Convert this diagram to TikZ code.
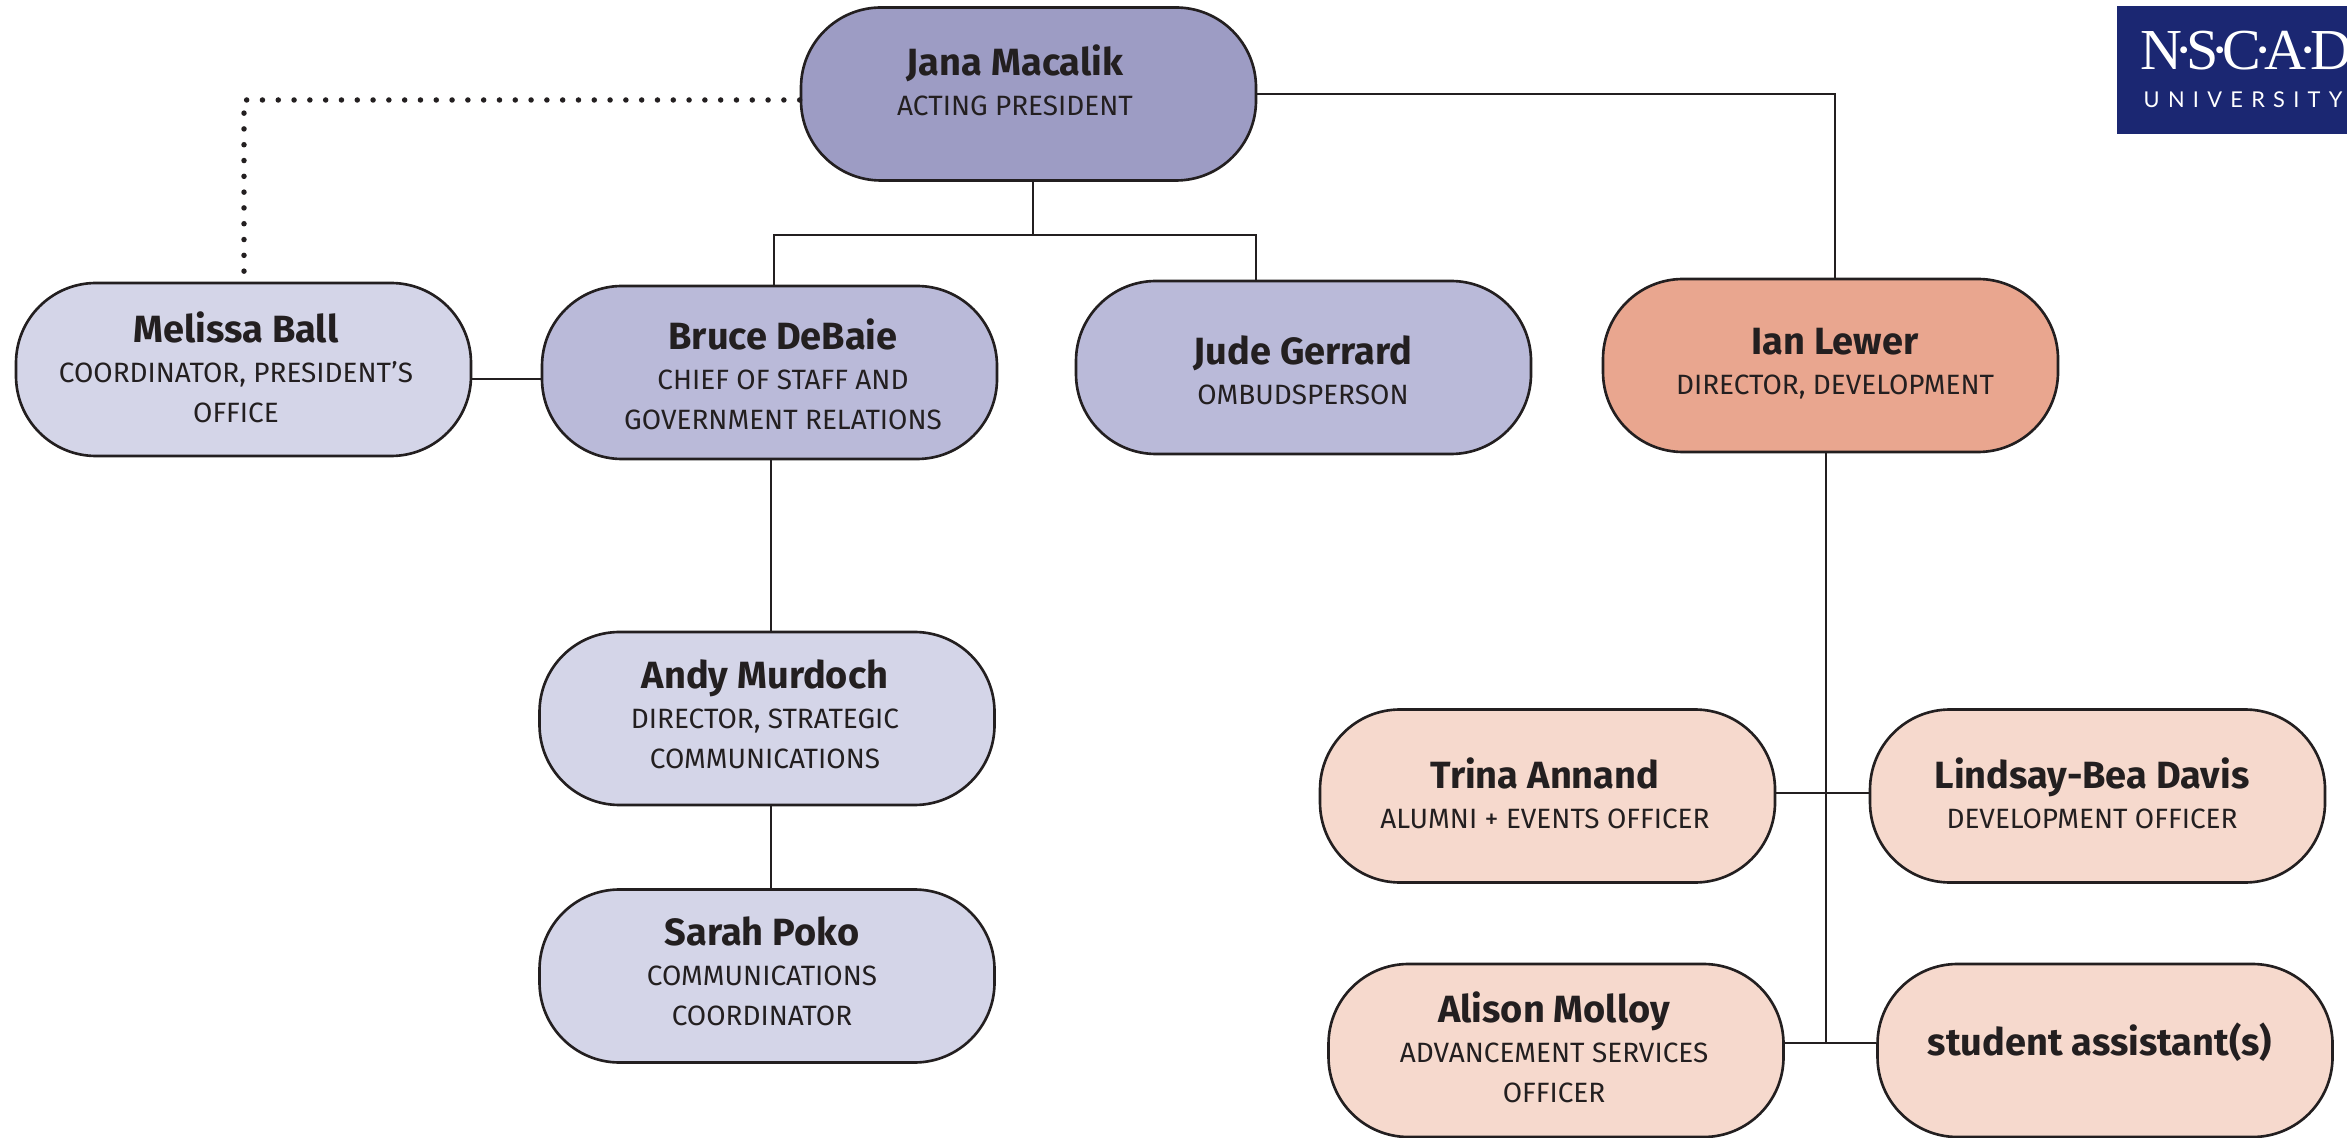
\documentclass[tikz,border=0pt]{standalone}
\usepackage{fontspec}
\setmainfont{Fira Sans}
\newfontfamily\crest{Liberation Serif}
\newfontfamily\crestsub[LetterSpace=38]{Lato}
\definecolor{inkline}{HTML}{231F20}
\definecolor{head}{HTML}{9D9CC4}
\definecolor{staff}{HTML}{BABAD9}
\definecolor{pale}{HTML}{D4D5E8}
\definecolor{dev}{HTML}{E9A68F}
\definecolor{devpale}{HTML}{F6D9CD}
\definecolor{crestblue}{HTML}{1B2772}
\newcommand{\who}[1]{{\fontsize{10.8}{12}\selectfont\bfseries #1}}
\newcommand{\crestdot}{\kern-.135em·\kern-.135em}
\tikzstyle{person}=[draw=inkline,line width=0.75pt,rectangle,rounded corners=0.8cm,minimum width=4.55cm,minimum height=1.73cm,inner sep=0pt]
\tikzstyle{words}=[inner sep=0pt,align=center,text=inkline,font=\fontsize{7.95}{11.4}\selectfont]
\tikzstyle{link}=[draw=inkline,line width=0.8pt,-]
\tikzstyle{dotted link}=[draw=inkline,line width=0.055cm,line cap=round,dash pattern=on 0pt off 0.158cm]

\begin{document}
\begin{tikzpicture}
    \useasboundingbox (0,0) rectangle (23.47,-11.38);
    % people
    \foreach \pos/\textpos/\name/\tone/\first/\role in {
        {(10.285,-0.94)/(10.15,-0.805)/jana/head/Jana Macalik/ACTING PRESIDENT},
        {(2.435,-3.695)/(2.36,-3.675)/melissa/pale/Melissa Ball/{COORDINATOR, PRESIDENT’S\\OFFICE}},
        {(7.695,-3.725)/(7.83,-3.745)/bruce/staff/Bruce DeBaie/{CHIEF OF STAFF AND\\GOVERNMENT RELATIONS}},
        {(13.035,-3.675)/(13.03,-3.70)/jude/staff/Jude Gerrard/OMBUDSPERSON},
        {(18.305,-3.655)/(18.35,-3.635)/ian/dev/Ian Lewer/{DIRECTOR, DEVELOPMENT}},
        {(7.67,-7.185)/(7.65,-7.14)/andy/pale/Andy Murdoch/{DIRECTOR, STRATEGIC\\COMMUNICATIONS}},
        {(7.67,-9.76)/(7.62,-9.71)/sarah/pale/Sarah Poko/{COMMUNICATIONS\\COORDINATOR}},
        {(15.475,-7.96)/(15.45,-7.93)/trina/devpale/Trina Annand/{ALUMNI + EVENTS OFFICER}},
        {(20.975,-7.96)/(20.92,-7.93)/lindsay/devpale/Lindsay-Bea Davis/DEVELOPMENT OFFICER},
        {(15.56,-10.505)/(15.54,-10.47)/alison/devpale/Alison Molloy/{ADVANCEMENT SERVICES\\OFFICER}}} {
        \node[person,fill=\tone] (\name) at \pos {};
        \node[words] (\name text) at \textpos {\who{\first}\\[0cm]\role};
    }
    \node[person,fill=devpale] (student) at (21.05,-10.505) {};
    \node[words] (student text) at (21.0,-10.42) {\who{student assistant(s)}};

    % free corners of the connectors
    \coordinate (split) at (10.33,-2.35);
    \coordinate (iandrop) at (18.35,-2.79);
    \coordinate (trunkend) at (18.26,-10.43);
    \coordinate (commsline) at (7.71,-6);
    \coordinate (dotcorner) at (2.44,-1.00);
    \coordinate (dotend) at (2.44,-2.72);

    \draw[link] (jana.south -| split) -- (split);
    \foreach \sink/\x in {bruce/7.74,jude/12.56} {
        \draw[link] (split) -- (\x,-2.35) -- (\x,-2.35 |- \sink.north);
    }
    \draw[link] (jana.east) -| (iandrop);
    \draw[link] (ian.south -| trunkend) -- (trunkend);
    \foreach \source/\sink/\y in {melissa/bruce/-3.79, trina/lindsay/-7.93, alison/student/-10.43} {
        \path[link] (\source.east |- 0,\y) -- (\sink.west |- 0,\y);
    }
    \foreach \source/\sink in {bruce/andy, andy/sarah} {
        \path[link] (\source.south -| commsline) -- (\sink.north -| commsline);
    }
    \draw[dotted link] (jana.west |- dotcorner) -- (dotcorner) -- (dotend);

    % crest
    \fill[crestblue] (21.17,-0.06) rectangle (23.47,-1.34);
    \node[anchor=base west,inner sep=0pt,text=white,font=\crest\fontsize{16.5}{18}\selectfont] (crest) at (21.40,-0.70) {N\crestdot S\crestdot C\crestdot A\crestdot D};
    \node[anchor=base west,inner sep=0pt,text=white,font=\crestsub\fontsize{6.2}{7}\selectfont] (crestsub) at (21.43,-1.08) {UNIVERSITY};
\end{tikzpicture}
\end{document}
